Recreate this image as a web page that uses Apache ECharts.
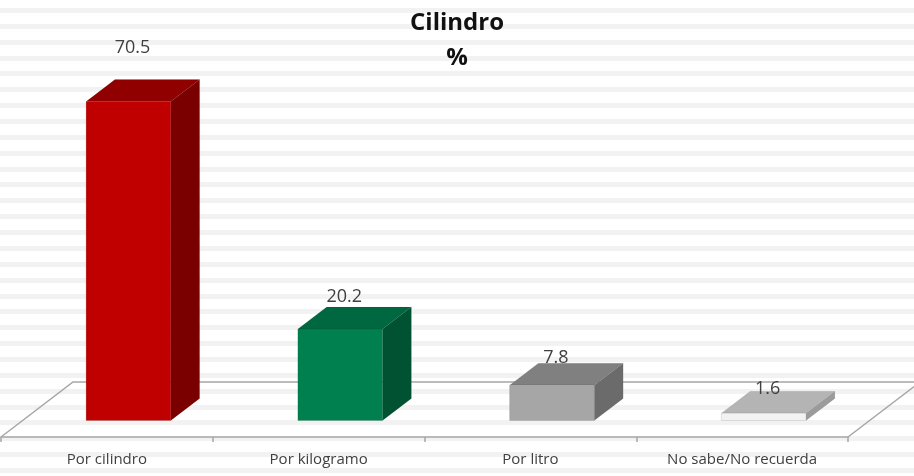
<!DOCTYPE html>
<html>
<head>
<meta charset="utf-8">
<script src="https://cdn.jsdelivr.net/npm/echarts@6/dist/echarts.min.js"></script>
<style>
  html, body { margin: 0; padding: 0; }
  #chart {
    width: 914px; height: 476px;
    background: repeating-linear-gradient(to bottom,
      #ffffff 0px, #ffffff 7.93px,
      #f2f2f2 7.93px, #f2f2f2 12.93px,
      #ffffff 12.93px, #ffffff 15.867px);
  }
</style>
</head>
<body>
<div id="chart"></div>
<script>
const categories = ['Por cilindro', 'Por kilogramo', 'Por litro', 'No sabe/No recuerda'];
const values = [70.5, 20.2, 7.8, 1.6];
const titleText = 'Cilindro\n%';

// face colours per bar: front, top, side
const palette = [
  { front: '#c00000', top: '#900000', side: '#7a0000' },
  { front: '#00804f', top: '#006840', side: '#005232' },
  { front: '#a6a6a6', top: '#808080', side: '#6b6b6b' },
  { front: '#f2f2f2', top: '#b4b4b4', side: '#9b9b9b' }
];

// oblique depth of the floor (px)
const FLOOR_DX = 72, FLOOR_DY = -55;

const chart = echarts.init(document.getElementById('chart'), null, { renderer: 'canvas' });

function renderItem(params, api) {
  const idx = api.value(0);
  const val = api.value(1);
  const base = api.coord([idx, 0]);
  const topPt = api.coord([idx, val]);
  const bw = api.size([1, 0])[0];
  const w = bw * 0.4;
  const fdx = FLOOR_DX * 0.3, fdy = FLOOR_DY * 0.3;
  const ddx = FLOOR_DX * 0.4, ddy = FLOOR_DY * 0.4;
  const x0 = base[0] - w / 2 + fdx;
  const x1 = x0 + w;
  const yb = base[1] + fdy;
  const yt = topPt[1] + fdy;
  const col = palette[params.dataIndex % palette.length];
  const children = [];

  if (params.dataIndex === 0) {
    const L = base[0] - bw / 2;
    const R = L + bw * categories.length;
    const y0 = base[1];
    children.push({
      type: 'polyline',
      shape: { points: [[L, y0], [L + FLOOR_DX, y0 + FLOOR_DY], [R + FLOOR_DX, y0 + FLOOR_DY], [R, y0]] },
      style: { stroke: '#a6a6a6', lineWidth: 1.5, fill: null }
    });
  }

  children.push({
    type: 'polygon',
    shape: { points: [[x1, yt], [x1 + ddx, yt + ddy], [x1 + ddx, yb + ddy], [x1, yb]] },
    style: { fill: col.side, stroke: 'rgba(0,0,0,0.08)', lineWidth: 0.6 }
  });
  children.push({
    type: 'polygon',
    shape: { points: [[x0, yt], [x1, yt], [x1 + ddx, yt + ddy], [x0 + ddx, yt + ddy]] },
    style: { fill: col.top, stroke: 'rgba(0,0,0,0.08)', lineWidth: 0.6 }
  });
  children.push({
    type: 'rect',
    shape: { x: x0, y: yt, width: w, height: yb - yt },
    style: { fill: col.front, stroke: 'rgba(0,0,0,0.15)', lineWidth: 0.7 }
  });
  children.push({
    type: 'text',
    style: {
      text: String(val),
      x: (x0 + x1) / 2 + 4,
      y: yt + ddy - (2 + 0.42 * val),
      align: 'center',
      verticalAlign: 'middle',
      fill: '#404040',
      font: '18px "Open Sans"'
    }
  });
  return { type: 'group', children: children };
}

const option = {
  animation: false,
  backgroundColor: 'transparent',
  title: {
    text: titleText,
    left: 'center',
    top: 1,
    textStyle: {
      fontFamily: 'Open Sans',
      fontWeight: 'bold',
      fontSize: 24,
      lineHeight: 35,
      color: '#111111'
    }
  },
  grid: { left: 1, right: 66, top: 75, bottom: 39 },
  xAxis: {
    type: 'category',
    data: categories,
    boundaryGap: true,
    axisLine: { show: true, lineStyle: { color: '#a6a6a6', width: 1.5 } },
    axisTick: { show: true, length: 5, lineStyle: { color: '#a6a6a6', width: 1.5 } },
    axisLabel: {
      color: '#404040',
      fontFamily: 'Open Sans',
      fontSize: 15,
      margin: 15,
      interval: 0
    },
    splitLine: { show: false }
  },
  yAxis: {
    type: 'value',
    min: 0,
    max: 80,
    show: false
  },
  series: [{
    type: 'custom',
    clip: false,
    renderItem: renderItem,
    encode: { x: 0, y: 1 },
    data: values.map((v, i) => [i, v])
  }]
};

chart.setOption(option);
</script>
</body>
</html>
